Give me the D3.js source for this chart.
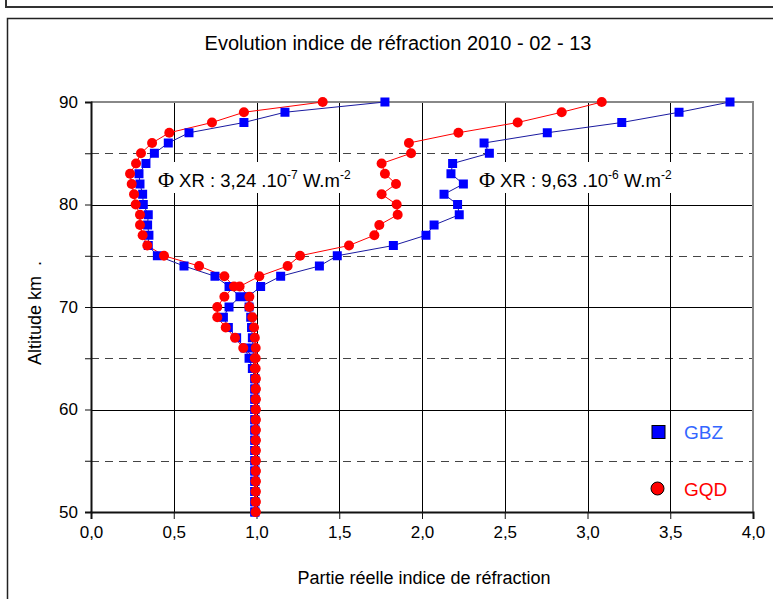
<!DOCTYPE html>
<html>
<head>
<meta charset="utf-8">
<script src="https://cdn.jsdelivr.net/npm/d3@7"></script>
<style>
  html, body { margin: 0; padding: 0; background: #fff; }
  svg { display: block; font-family: "Liberation Sans", Arial, sans-serif; }
</style>
</head>
<body>
<svg id="chart" width="773" height="599"></svg>
<script>
// Altitudes (km) of each sample, bottom to top
const altitudes = d3.range(50, 91);

// Real part of refraction index, low-flux case (Φ XR = 3,24e-7 W/m²)
const gbzLow = [0.99,0.99,0.99,0.99,0.99,0.99,0.99,0.99,0.99,0.99,0.99,0.99,0.99,0.99,
  0.975,0.955,0.93,0.88,0.83,0.80,0.834,0.90,0.834,0.749,0.562,0.401,0.346,0.350,0.342,0.346,
  0.316,0.312,0.296,0.290,0.332,0.383,0.467,0.592,0.924,1.172,1.776];
const gqdLow = [0.995,0.995,0.995,0.995,0.995,0.995,0.995,0.995,0.995,0.995,0.995,0.995,0.995,0.995,
  0.99,0.99,0.92,0.87,0.814,0.763,0.763,0.806,0.864,0.806,0.653,0.441,0.340,0.312,0.296,0.296,
  0.270,0.260,0.246,0.236,0.272,0.302,0.369,0.473,0.731,0.924,1.40];

// Real part of refraction index, high-flux case (Φ XR = 9,63e-6 W/m²)
const gbzHigh = [0.99,0.99,0.99,0.99,0.99,0.99,0.99,0.99,0.99,0.99,0.99,0.99,0.99,0.99,
  0.985,0.98,0.98,0.975,0.97,0.965,0.955,0.95,1.025,1.146,1.38,1.488,1.827,2.024,2.073,2.225,
  2.215,2.133,2.250,2.175,2.185,2.407,2.375,2.757,3.207,3.553,3.861];
const gqdHigh = [0.995,0.995,0.995,0.995,0.995,0.995,0.995,0.995,0.995,0.995,0.995,0.995,0.995,0.995,
  0.995,0.995,0.995,0.99,0.985,0.975,0.957,0.957,0.898,1.017,1.188,1.263,1.559,1.712,1.742,1.853,
  1.847,1.756,1.843,1.776,1.756,1.934,1.921,2.22,2.578,2.844,3.086];

const xTicks = d3.range(0, 4.01, 0.5);
const yTicks = d3.range(50, 91, 5);
const yLabels = [50, 60, 70, 80, 90];

const legendItems = [
  { name: "GBZ", color: "#0000ff", text: "#3366ff", shape: "square" },
  { name: "GQD", color: "#ff0000", text: "#ff0000", shape: "circle" }
];

const svg = d3.select("#chart");

// Outer frames
svg.append("rect").attr("x", 6).attr("y", -10).attr("width", 800).attr("height", 17)
  .attr("fill", "none").attr("stroke", "#333").attr("stroke-width", 2);
svg.append("rect").attr("x", 7.5).attr("y", 18.5).attr("width", 800).attr("height", 620)
  .attr("fill", "none").attr("stroke", "#222").attr("stroke-width", 1.5);

const x = d3.scaleLinear().domain([0, 4]).range([91, 753]);
const y = d3.scaleLinear().domain([50, 90]).range([512, 102]);

// Grid
const grid = svg.append("g");
grid.selectAll("line.h").data(yTicks.filter(v => v > 50 && v < 90)).join("line")
  .attr("x1", x(0)).attr("x2", x(4))
  .attr("y1", d => Math.round(y(d)) + 0.5).attr("y2", d => Math.round(y(d)) + 0.5)
  .attr("stroke", d => d % 10 === 0 ? "#000" : "#444")
  .attr("stroke-width", 1)
  .attr("stroke-dasharray", d => d % 10 === 0 ? null : "8,6");
grid.selectAll("line.v").data(xTicks.filter(v => v > 0 && v < 4)).join("line")
  .attr("x1", d => Math.round(x(d)) + 0.5).attr("x2", d => Math.round(x(d)) + 0.5)
  .attr("y1", y(90)).attr("y2", y(50))
  .attr("stroke", "#000").attr("stroke-width", 1);

// Plot border (top / right)
svg.append("path")
  .attr("d", `M${x(0)},${y(90)}H${x(4)}V${y(50)}`)
  .attr("fill", "none").attr("stroke", "#888").attr("stroke-width", 2);

// Flux annotations (white boxes over the grid)
function fluxLabel(x0, x1, mant, exp) {
  svg.append("rect").attr("x", x0).attr("y", 162).attr("width", x1 - x0).attr("height", 31)
    .attr("fill", "#fff");
  const t = svg.append("text").attr("x", x0 + 5).attr("y", 187).attr("font-size", 18.5).attr("fill", "#000");
  t.append("tspan").attr("font-family", "'Liberation Serif', 'Times New Roman', serif")
    .attr("font-size", 22).text("Φ");
  t.append("tspan").attr("dx", 5).text("XR : " + mant + " .10");
  t.append("tspan").attr("font-size", 12).attr("dy", -8).text(exp);
  t.append("tspan").attr("dy", 8).text(" W.m");
  t.append("tspan").attr("font-size", 12).attr("dy", -8).text("-2");
}
fluxLabel(153, 357, "3,24", "-7");
fluxLabel(474, 680, "9,63", "-6");

// Axes
const yAxis = svg.append("g").attr("transform", `translate(${x(0)},0)`)
  .call(d3.axisLeft(y).tickValues(yTicks).tickSize(6)
    .tickFormat(d => yLabels.includes(d) ? d3.format("d")(d) : ""));
const xAxis = svg.append("g").attr("transform", `translate(0,${y(50)})`)
  .call(d3.axisBottom(x).tickValues(xTicks).tickSize(7)
    .tickFormat(d => d3.format(".1f")(d).replace(".", ",")));
[yAxis, xAxis].forEach(g => {
  g.select(".domain").attr("stroke", "#111").attr("stroke-width", 2);
  g.selectAll(".tick line").attr("stroke", "#111").attr("stroke-width", 1);
  g.selectAll(".tick text").attr("font-size", 17).attr("fill", "#000")
    .attr("font-family", "'Liberation Sans', Arial, sans-serif");
});
yAxis.selectAll(".tick text").attr("x", -13);
xAxis.selectAll(".tick text").attr("y", 14);

// Series
const series = [
  { vals: gbzLow, line: "#1a1aa0", fill: "#0000ff", shape: "square" },
  { vals: gbzHigh, line: "#1a1aa0", fill: "#0000ff", shape: "square" },
  { vals: gqdLow, line: "#ff0000", fill: "#ff0000", shape: "circle" },
  { vals: gqdHigh, line: "#ff0000", fill: "#ff0000", shape: "circle" }
];
const lineGen = d3.line().x(d => x(d[0])).y(d => y(d[1]));
series.forEach(s => {
  const pts = s.vals.map((v, i) => [v, altitudes[i]]);
  svg.append("path").datum(pts).attr("d", lineGen)
    .attr("fill", "none").attr("stroke", s.line).attr("stroke-width", 1);
});
series.forEach(s => {
  const pts = s.vals.map((v, i) => [v, altitudes[i]]);
  const g = svg.append("g");
  if (s.shape === "square") {
    g.selectAll("rect").data(pts).join("rect")
      .attr("x", d => x(d[0]) - 4.5).attr("y", d => y(d[1]) - 4.5)
      .attr("width", 9).attr("height", 9).attr("fill", s.fill);
  } else {
    g.selectAll("circle").data(pts).join("circle")
      .attr("cx", d => x(d[0])).attr("cy", d => y(d[1])).attr("r", 5).attr("fill", s.fill);
  }
});

// Legend
const lg = svg.append("g");
legendItems.forEach((it, i) => {
  const cy = 432 + i * 56.5;
  if (it.shape === "square") {
    lg.append("rect").attr("x", 652).attr("y", cy - 6.5).attr("width", 13).attr("height", 13)
      .attr("fill", it.color).attr("stroke", "#000").attr("stroke-width", 1);
  } else {
    lg.append("circle").attr("cx", 657.5).attr("cy", cy).attr("r", 6.5)
      .attr("fill", it.color).attr("stroke", "#000").attr("stroke-width", 1);
  }
  lg.append("text").attr("x", 684).attr("y", cy + 7).attr("font-size", 19)
    .attr("fill", it.text).text(it.name);
});

// Titles
svg.append("text").attr("x", 398).attr("y", 50).attr("text-anchor", "middle")
  .attr("font-size", 20).attr("fill", "#000").text("Evolution indice de réfraction 2010 - 02 - 13");
svg.append("text").attr("x", 424).attr("y", 584).attr("text-anchor", "middle")
  .attr("font-size", 18).attr("fill", "#000").text("Partie réelle indice de réfraction");
svg.append("text").attr("transform", "translate(41,313) rotate(-90)").attr("text-anchor", "middle")
  .attr("font-size", 18).attr("fill", "#000").attr("xml:space", "preserve")
  .text("Altitude km  .");
</script>
</body>
</html>
